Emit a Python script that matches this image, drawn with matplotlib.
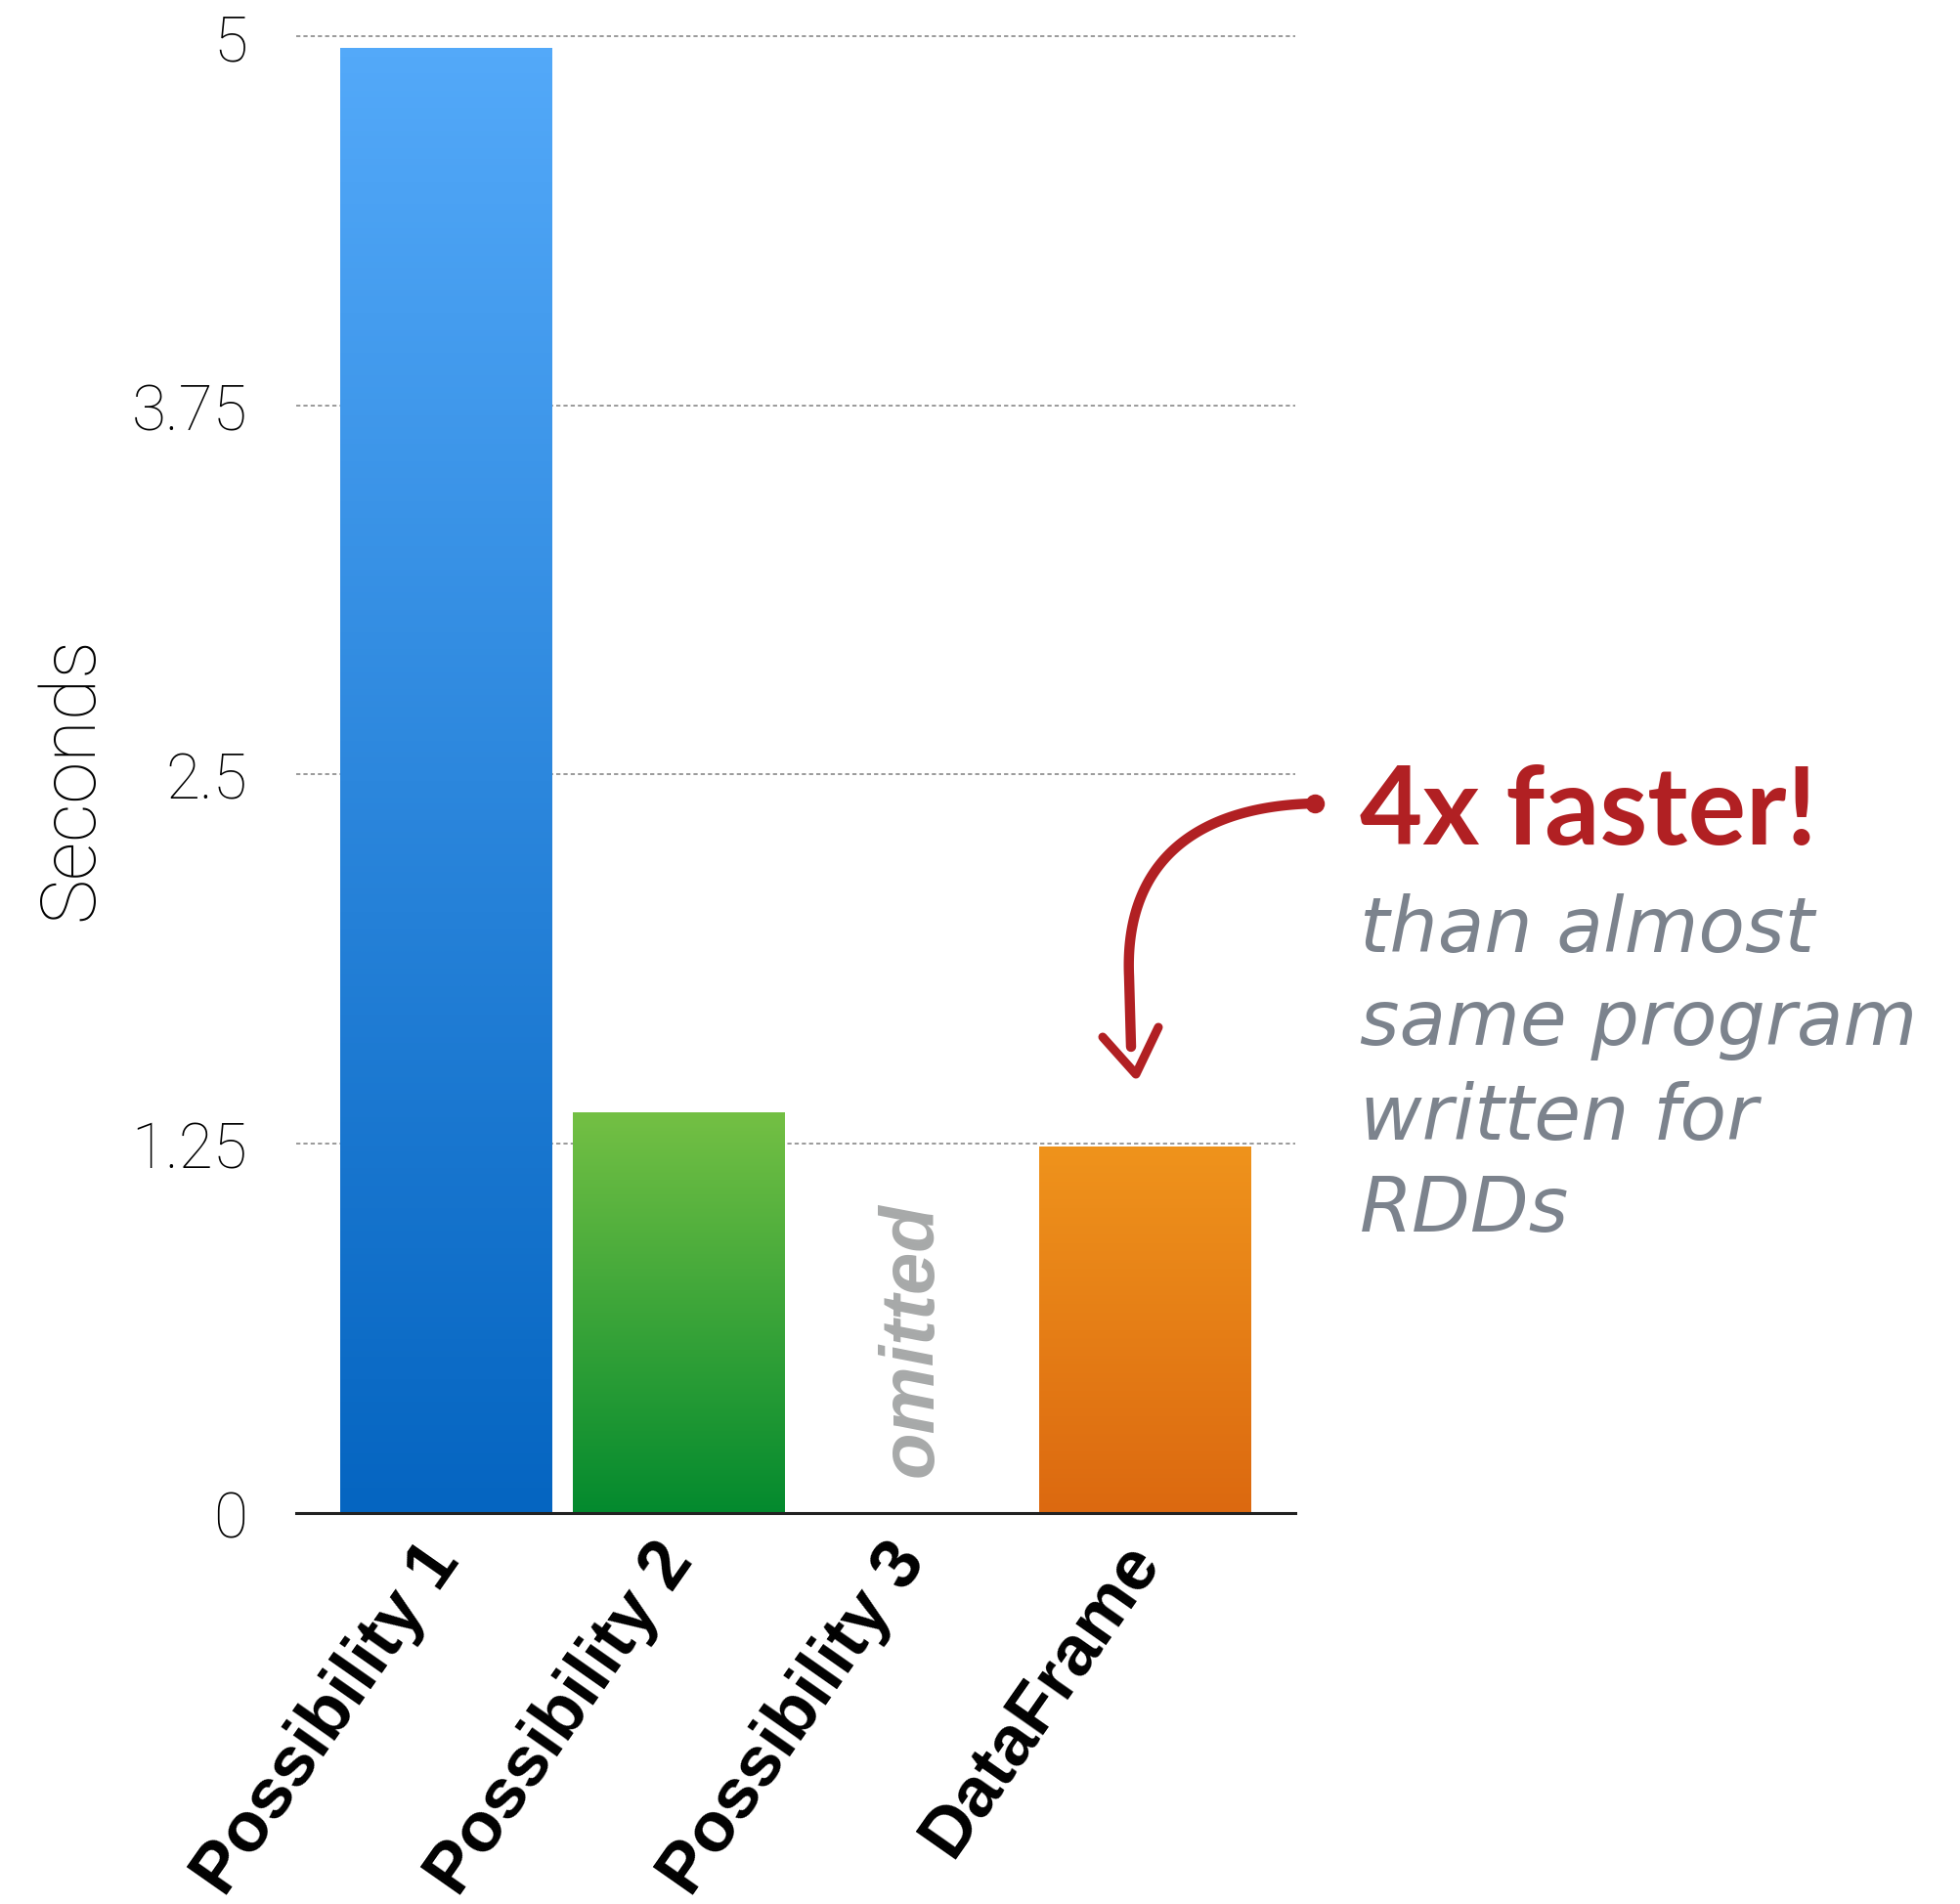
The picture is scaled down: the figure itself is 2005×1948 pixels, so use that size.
import numpy as np
import matplotlib
matplotlib.use("Agg")
import matplotlib.pyplot as plt
from matplotlib.colors import LinearSegmentedColormap
from matplotlib.lines import Line2D

# ---------------- data ----------------
categories = ["Possibility 1", "Possibility 2", "Possibility 3", "DataFrame"]
seconds = [4.96, 1.355, np.nan, 1.24]          # Possibility 3 omitted
y_ticks = [0, 1.25, 2.5, 3.75, 5]
y_tick_labels = ["0", "1.25", "2.5", "3.75", "5"]
top_colors = ["#53A9F9", "#74C044", None, "#EF931C"]
bottom_colors = ["#0565C1", "#038A2E", None, "#DC6910"]
headline = "4x faster!"
subtitle_lines = ["than almost", "same program", "written for", "RDDs"]

W, H = 2005, 1949
fig = plt.figure(figsize=(W / 100, H / 100), dpi=100)
fig.patch.set_facecolor("white")

def fx(px):
    return np.asarray(px) / W

def fy(py):
    return 1 - np.asarray(py) / H

ymax = 5.05
ax_left, ax_right = 303, 1325
ax_bottom_px = 1548.5
unit = (1548.5 - 38.4) / 5.0
ax_top_px = ax_bottom_px - ymax * unit
ax = fig.add_axes([fx(ax_left), fy(ax_bottom_px), (ax_right - ax_left) / W,
                   (ax_bottom_px - ax_top_px) / H])

x = np.arange(len(categories))
vals = np.nan_to_num(np.array(seconds, dtype=float))
bars = ax.bar(x, vals, width=0.91, color="none", edgecolor="none", zorder=2)
grad = np.linspace(0, 1, 256).reshape(-1, 1)
for b, top, bot, v in zip(bars, top_colors, bottom_colors, seconds):
    if np.isnan(v):
        continue
    cmap = LinearSegmentedColormap.from_list("g", [bot, top])
    im = ax.imshow(grad, cmap=cmap, origin="lower", aspect="auto",
                   extent=[b.get_x(), b.get_x() + b.get_width(), 0, b.get_height()],
                   zorder=2, interpolation="bilinear")
    im.set_clip_path(b)

ax.set_xlim(-0.643, 3.643)
ax.set_ylim(0, ymax)

# grid
for t in y_ticks[1:]:
    ax.axhline(t, color="#9a9a9a", lw=1.4, linestyle=(0, (2.2, 1.6)), zorder=1)

for s in ["left", "right", "top"]:
    ax.spines[s].set_visible(False)
ax.spines["bottom"].set_color("#222222")
ax.spines["bottom"].set_linewidth(2.2)
ax.spines["bottom"].set_zorder(3)

ax.set_yticks(y_ticks)
ax.set_yticklabels(y_tick_labels, fontsize=46, fontfamily="Roboto", fontweight="light",
                   color="black")
ax.tick_params(axis="y", length=0, pad=36)

ax.set_xticks(x)
ax.set_xticklabels(categories, rotation=55, ha="right", va="center",
                   rotation_mode="anchor", fontsize=52, fontweight="bold",
                   fontfamily="Liberation Sans")
ax.tick_params(axis="x", length=0, pad=27)

# y label
fig.text(fx(73), fy(796), "Seconds", rotation=90, ha="center", va="center",
         fontsize=56, fontfamily="Roboto", fontweight="light", color="black")

# omitted marker
ax.text(2, 0.588, "omitted", rotation=90, ha="center", va="center",
        color="#A7A9A9", fontsize=56, fontweight="bold", fontstyle="italic",
        fontfamily="Liberation Sans")

# annotation text
red = "#B12023"
fig.text(fx(1391), fy(864), headline, ha="left", va="baseline", color=red,
         fontsize=80, fontweight="bold", fontfamily="Lato")
baselines = [974, 1069, 1166, 1260]
for line, b in zip(subtitle_lines, baselines):
    fig.text(fx(1391), fy(b), line, ha="left", va="baseline", color="#7C838D",
             fontsize=56, fontstyle="italic", fontfamily="DejaVu Sans")

# hand-drawn style arrow (figure pixel coordinates)
t = np.linspace(0, 1, 120)
P0 = np.array([1345, 823]); P1 = np.array([1215, 826])
P2 = np.array([1150, 890]); P3 = np.array([1155, 1000])
curve = ((1 - t) ** 3)[:, None] * P0 + (3 * (1 - t) ** 2 * t)[:, None] * P1 \
    + (3 * (1 - t) * t ** 2)[:, None] * P2 + (t ** 3)[:, None] * P3
curve = np.vstack([curve, [[1157, 1072]]])
fig.add_artist(Line2D(fx(curve[:, 0]), fy(curve[:, 1]), color=red, lw=7.5,
                      solid_capstyle="round", solid_joinstyle="round"))
fig.add_artist(Line2D([fx(1345)], [fy(823)], marker="o", markersize=13, color=red,
                      lw=0))
fig.add_artist(Line2D(fx([1128, 1162, 1185]), fy([1062, 1100, 1052]),
                      color=red, lw=6.5, solid_capstyle="round", solid_joinstyle="round"))

fig.savefig("out.png", dpi=100, facecolor="white")
